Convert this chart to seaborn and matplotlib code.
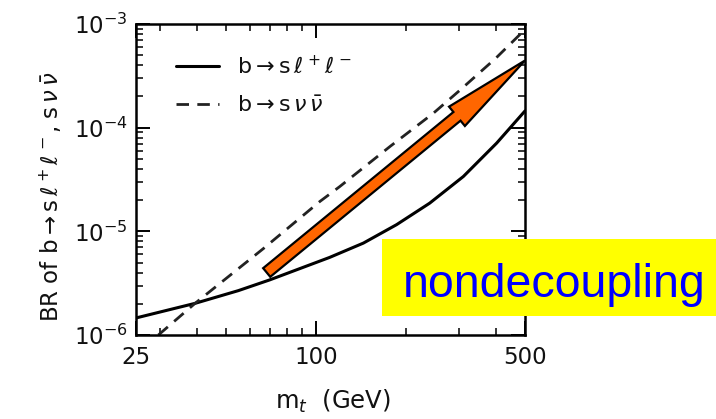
import numpy as np
import pandas as pd
import matplotlib
matplotlib.use("Agg")
import matplotlib.pyplot as plt
import seaborn as sns
from matplotlib.patches import Polygon, Rectangle
from matplotlib.transforms import IdentityTransform
from matplotlib.ticker import FixedLocator, NullFormatter, LogLocator
from matplotlib.lines import Line2D

# ---- data ----
mt_sll = [25, 39.4, 55, 70, 111, 144, 186, 240, 311, 402, 500]
br_sll = [1.46e-6, 2.02e-6, 2.68e-6, 3.4e-6, 5.6e-6, 7.7e-6, 1.16e-5, 1.87e-5,
          3.38e-5, 7.1e-5, 1.45e-4]
mt_snn = [29.7, 39.4, 66.6, 103, 120, 177, 247, 303, 400, 500]
br_snn = [1.0e-6, 2.02e-6, 6.8e-6, 1.94e-5, 2.7e-5, 6.6e-5, 1.38e-4, 2.3e-4,
          4.7e-4, 8.85e-4]
x_ticks = [25, 100, 500]
x_ticklabels = ["25", "100", "500"]
y_ticks = [1e-6, 1e-5, 1e-4, 1e-3]
y_ticklabels = [r"$10^{-6}$", r"$10^{-5}$", r"$10^{-4}$", r"$10^{-3}$"]
label_sll = r"b$\rightarrow$s$\,\ell^+\ell^-$"
label_snn = r"b$\rightarrow$s$\,\nu\,\bar{\nu}$"
annotation = "nondecoupling"

sns.set_style("ticks")
plt.rcParams["font.family"] = ["DejaVu Sans"]
plt.rcParams["mathtext.fontset"] = "dejavusans"

W, H = 716, 419
fig = plt.figure(figsize=(W / 100, H / 100), dpi=100)
L, R, T, B = 136, 525, 24, 335
ax = fig.add_axes([L / W, 1 - B / H, (R - L) / W, (B - T) / H])

df_sll = pd.DataFrame({"mt": mt_sll, "br": br_sll})
df_snn = pd.DataFrame({"mt": mt_snn, "br": br_snn})
dash = (0, (4.5, 3.0))
sns.lineplot(data=df_sll, x="mt", y="br", ax=ax, color="black", lw=2.2,
             estimator=None, sort=False)
sns.lineplot(data=df_snn, x="mt", y="br", ax=ax, color="#222222", lw=2.0,
             linestyle=dash, estimator=None, sort=False)

ax.set_xscale("log")
ax.set_yscale("log")
ax.set_xlim(25, 500)
ax.set_ylim(1e-6, 1e-3)

ax.xaxis.set_major_locator(FixedLocator(x_ticks))
ax.set_xticklabels(x_ticklabels)
ax.xaxis.set_minor_locator(LogLocator(base=10, subs=np.arange(2, 10)))
ax.xaxis.set_minor_formatter(NullFormatter())
ax.yaxis.set_major_locator(FixedLocator(y_ticks))
ax.set_yticklabels(y_ticklabels)
ax.yaxis.set_minor_locator(LogLocator(base=10, subs=np.arange(2, 10)))
ax.yaxis.set_minor_formatter(NullFormatter())

ax.tick_params(which="both", direction="in", top=True, right=True,
               color="black", labelcolor="#111111")
ax.tick_params(which="major", length=10, width=1.4, labelsize=16.5)
ax.tick_params(which="minor", length=5, width=1.1)
ax.tick_params(axis="x", which="major", pad=8)
ax.tick_params(axis="y", which="major", pad=6)
for sp in ax.spines.values():
    sp.set_linewidth(1.8)
    sp.set_color("black")

ax.set_xlabel(r"m$_t$  (GeV)", fontsize=17.5, color="#111111")
ax.xaxis.set_label_coords((333 - L) / (R - L), (B - 388) / (B - T))
ax.xaxis.label.set_va("top")
ax.set_ylabel(r"BR of b$\rightarrow$s$\,\ell^+\ell^-$, s$\,\nu\,\bar{\nu}$",
              fontsize=16.5, color="#111111")
ax.yaxis.set_label_coords((64 - L) / (R - L), (B - 197) / (B - T))

handles = [Line2D([], [], color="black", lw=2.2),
           Line2D([], [], color="#222222", lw=2.0, linestyle=dash)]
ax.legend(handles, [label_sll, label_snn], loc="upper left",
          bbox_to_anchor=((176 - L) / (R - L), (B - 55) / (B - T)),
          frameon=False, fontsize=16, handlelength=1.95, handletextpad=0.8,
          borderpad=0, borderaxespad=0, labelspacing=0.8,
          labelcolor="#111111")

# ---- orange arrow (decoration, in pixel space) ----
tail = np.array([266.7, 272.5])
tip = np.array([525.0, 60.5])
d = (tip - tail) / np.linalg.norm(tip - tail)
n = np.array([-d[1], d[0]])
hw, hh, hl = 5.6, 12.5, 88.0
base = tip - hl * d
pts = [tail + hw * n, base + hw * n, base + hh * n, tip,
       base - hh * n, base - hw * n, tail - hw * n]
pts = [(p[0], H - p[1]) for p in pts]
arrow = Polygon(pts, closed=True, facecolor="#FF6600", edgecolor="black",
                lw=1.6, transform=IdentityTransform(), zorder=10)
fig.add_artist(arrow)

# ---- yellow label box ----
box = Rectangle((382 / W, 1 - 316 / H), (W - 382) / W, 77 / H,
                transform=fig.transFigure, facecolor="#FFFF00",
                edgecolor="none", zorder=11)
fig.add_artist(box)
fig.text(403 / W, 1 - 297 / H, annotation, fontsize=33.5,
         family=["Liberation Sans", "DejaVu Sans"], color="#0000FF",
         ha="left", va="baseline", zorder=12)

fig.savefig("out.png", dpi=100)
